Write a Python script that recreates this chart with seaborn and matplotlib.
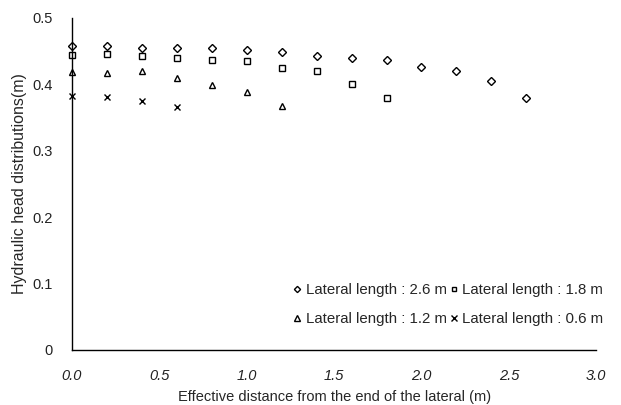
import matplotlib
matplotlib.use("Agg")
import matplotlib.pyplot as plt
import seaborn as sns
import pandas as pd

# distances from end of lateral (m)
x_26 = [0.0, 0.2, 0.4, 0.6, 0.8, 1.0, 1.2, 1.4, 1.6, 1.8, 2.0, 2.2, 2.4, 2.6]
h_26 = [0.458, 0.458, 0.455, 0.455, 0.455, 0.452, 0.449, 0.443, 0.440, 0.437, 0.426, 0.420, 0.405, 0.380]
x_18 = [0.0, 0.2, 0.4, 0.6, 0.8, 1.0, 1.2, 1.4, 1.6, 1.8]
h_18 = [0.444, 0.446, 0.443, 0.440, 0.437, 0.435, 0.425, 0.420, 0.401, 0.380]
x_12 = [0.0, 0.2, 0.4, 0.6, 0.8, 1.0, 1.2]
h_12 = [0.419, 0.417, 0.420, 0.410, 0.399, 0.389, 0.367]
x_06 = [0.0, 0.2, 0.4, 0.6]
h_06 = [0.383, 0.381, 0.375, 0.366]

labels = ["Lateral length : 2.6 m", "Lateral length : 1.8 m",
          "Lateral length : 1.2 m", "Lateral length : 0.6 m"]
xticks = [0.0, 0.5, 1.0, 1.5, 2.0, 2.5, 3.0]
xticklabels = ["0.0", "0.5", "1.0", "1.5", "2.0", "2.5", "3.0"]
yticks = [0, 0.1, 0.2, 0.3, 0.4, 0.5]
yticklabels = ["0", "0.1", "0.2", "0.3", "0.4", "0.5"]

sns.set_style("ticks")
plt.rcParams["font.family"] = ["Liberation Sans", "DejaVu Sans"]

fig = plt.figure(figsize=(6.21, 4.05), dpi=100)
ax = fig.add_axes([0.116, 0.136, 0.844, 0.820])

series = [(x_26, h_26, "D", 4.2), (x_18, h_18, "s", 4.4),
          (x_12, h_12, "^", 5.0), (x_06, h_06, "x", 5.0)]
for (xs, hs, m, ms), lab in zip(series, labels):
    df = pd.DataFrame({"x": xs, "h": hs})
    sns.lineplot(data=df, x="x", y="h", ax=ax, marker=m, linestyle="",
                 markersize=ms, markerfacecolor="none", markeredgecolor="black",
                 markeredgewidth=1.0, color="black", label=lab, clip_on=False)

ax.set_xlim(0, 3.0)
ax.set_ylim(0, 0.5)
ax.set_xticks(xticks)
ax.set_xticklabels(xticklabels, fontstyle="italic", fontsize=10.5, color="#222222")
ax.set_yticks(yticks)
ax.set_yticklabels(yticklabels, fontsize=10.5, color="#222222")
ax.tick_params(axis="x", length=0, pad=14)
ax.tick_params(axis="y", length=0, pad=14)
ax.set_xlabel("Effective distance from the end of the lateral (m)", fontsize=10.5, labelpad=5)
ax.set_ylabel("Hydraulic head distributions(m)", fontsize=11.5, labelpad=4)
sns.despine(ax=ax)
for sp in ("left", "bottom"):
    ax.spines[sp].set_color("black")
    ax.spines[sp].set_linewidth(1.0)

h, l = ax.get_legend_handles_labels()
order = [0, 2, 1, 3]
ax.legend([h[i] for i in order], [l[i] for i in order], ncol=2, frameon=False,
          loc="lower right", bbox_to_anchor=(1.04, 0.03), fontsize=10.8,
          handlelength=0.6, handletextpad=0.25, columnspacing=0.2,
          labelspacing=1.0, markerscale=0.75)

fig.savefig("out.png", dpi=100)
